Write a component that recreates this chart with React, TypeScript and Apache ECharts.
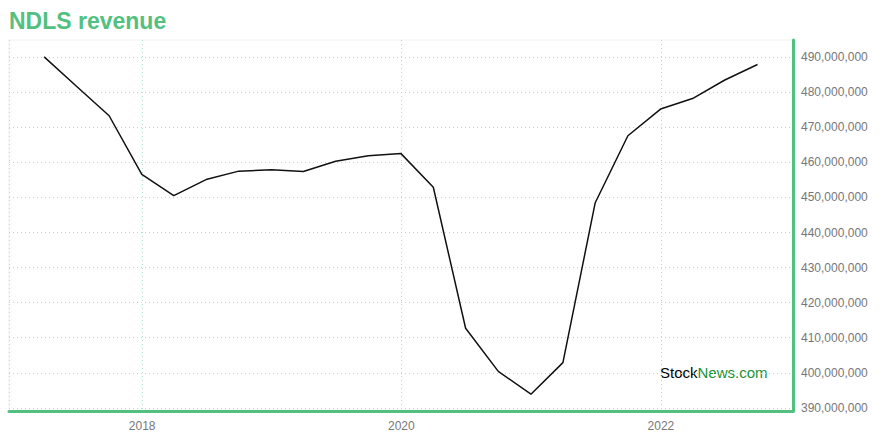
import React, { useEffect, useRef } from "react";
import * as echarts from "echarts";

const dates: string[] = [
  "2017-03-31", "2017-06-30", "2017-09-30", "2017-12-31",
  "2018-03-31", "2018-06-30", "2018-09-30", "2018-12-31",
  "2019-03-31", "2019-06-30", "2019-09-30", "2019-12-31",
  "2020-03-31", "2020-06-30", "2020-09-30", "2020-12-31",
  "2021-03-31", "2021-06-30", "2021-09-30", "2021-12-31",
  "2022-03-31", "2022-06-30", "2022-09-30",
];

const revenue: number[] = [
  490100000, 481700000, 473300000, 456600000,
  450500000, 455100000, 457500000, 457900000,
  457400000, 460300000, 461900000, 462500000,
  452900000, 412700000, 400400000, 393900000,
  402900000, 448500000, 467600000, 475200000,
  478200000, 483500000, 487900000,
];

const title = "NDLS revenue";
const xMin = "2016-12-22";
const xMax = "2023-01-08";
const yMin = 389100000;
const yMax = 494900000;

const GREEN = "#52c17f";
const GRID_GREEN = "#a9e2c1";
const FONT = "Liberation Sans, Arial, sans-serif";

export default function App() {
  const ref = useRef<HTMLDivElement>(null);
  useEffect(() => {
    if (!ref.current) return;
    const chart = echarts.init(ref.current, undefined, { renderer: "svg" });
    chart.setOption({
      animation: false,
      backgroundColor: "#fff",
      title: {
        text: title,
        left: 9,
        top: 9,
        padding: 0,
        textStyle: {
          color: GREEN,
          fontSize: 23,
          fontWeight: "bold",
          fontFamily: FONT,
        },
      },
      grid: {
        left: 9,
        right: 87,
        top: 40,
        bottom: 29,
        show: true,
        borderColor: "#f0f0f0",
        borderWidth: 1,
        containLabel: false,
      },
      xAxis: {
        type: "time",
        min: xMin,
        max: xMax,
        splitNumber: 3,
        axisLine: { show: true, lineStyle: { color: GREEN, width: 3 } },
        axisTick: { show: false },
        axisLabel: {
          color: "#777",
          fontSize: 12,
          fontFamily: FONT,
          margin: 9,
          formatter: "{yyyy}",
          showMinLabel: false,
          showMaxLabel: false,
        },
        splitLine: {
          show: true,
          lineStyle: { color: GRID_GREEN, type: [1, 3], width: 1 },
        },
        minorTick: { show: false },
      },
      yAxis: {
        type: "value",
        position: "right",
        min: yMin,
        max: yMax,
        splitNumber: 10,
        axisLine: { show: true, lineStyle: { color: GREEN, width: 3 } },
        axisTick: { show: false },
        axisLabel: {
          color: "#777",
          fontSize: 12,
          fontFamily: FONT,
          margin: 8,
          showMinLabel: false,
          showMaxLabel: false,
          formatter: (v: number) =>
            v % 10000000 === 0 ? v.toLocaleString("en-US") : "",
        },
        splitLine: {
          show: true,
          showMinLine: false,
          showMaxLine: false,
          lineStyle: { color: GRID_GREEN, type: [1, 3], width: 1 },
        },
      },
      graphic: [
        {
          type: "text",
          left: 660,
          top: 365,
          style: {
            text: "{a|Stock}{b|News.com}",
            rich: {
              a: { fill: "#000", fontSize: 15, fontFamily: FONT },
              b: { fill: "#17913a", fontSize: 15, fontFamily: FONT },
            },
          },
        },
      ],
      series: [
        {
          type: "line",
          data: dates.map((d, i) => [d, revenue[i]]),
          showSymbol: false,
          symbol: "none",
          lineStyle: { color: "#111", width: 1.5 },
        },
      ],
    });
    return () => chart.dispose();
  }, []);
  return <div ref={ref} style={{ width: 880, height: 440, position: "absolute", left: 0, top: 0 }} />;
}
